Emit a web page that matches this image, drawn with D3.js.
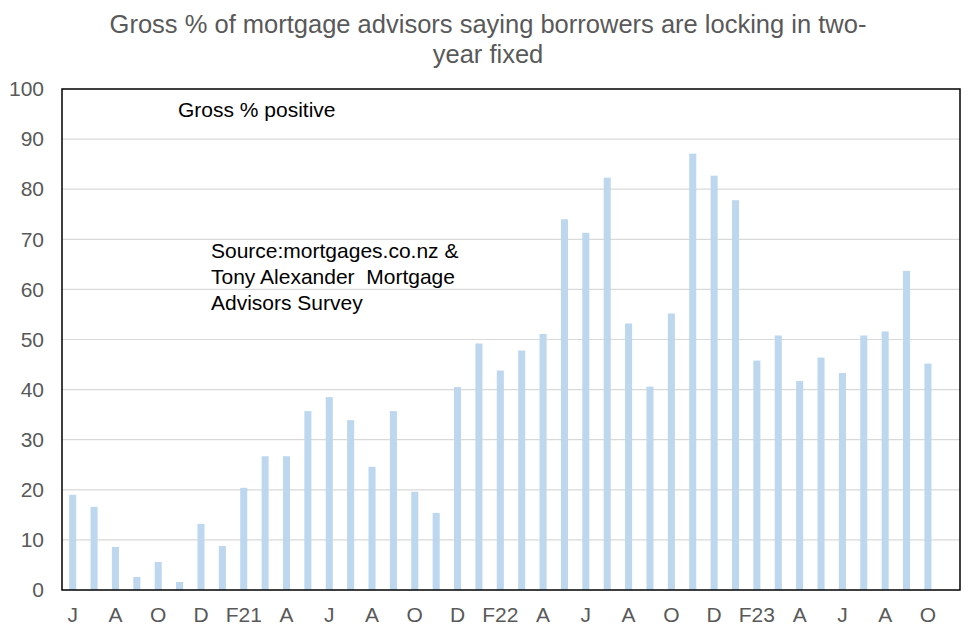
<!DOCTYPE html>
<html>
<head>
<meta charset="utf-8">
<script src="https://cdn.jsdelivr.net/npm/d3@7"></script>
<style>
  body { margin: 0; background: #fff; }
  svg { display: block; font-family: "Liberation Sans", Arial, sans-serif; }
</style>
</head>
<body>
<svg id="chart" width="976" height="636"></svg>
<script>
// monthly survey, Jun 2020 .. Nov 2023 (last month has no reading yet)
var months = [
	"2020-06", "2020-07", "2020-08", "2020-09", "2020-10", "2020-11", "2020-12",
	"2021-01", "2021-02", "2021-03", "2021-04", "2021-05", "2021-06", "2021-07",
	"2021-08", "2021-09", "2021-10", "2021-11", "2021-12", "2022-01", "2022-02",
	"2022-03", "2022-04", "2022-05", "2022-06", "2022-07", "2022-08", "2022-09",
	"2022-10", "2022-11", "2022-12", "2023-01", "2023-02", "2023-03", "2023-04",
	"2023-05", "2023-06", "2023-07", "2023-08", "2023-09", "2023-10", "2023-11"
];

var grossPositive = [
	19.0, 16.6, 8.6, 2.6, 5.6, 1.6, 13.2,
	8.8, 20.4, 26.7, 26.7, 35.7, 38.5, 33.9,
	24.6, 35.7, 19.6, 15.4, 40.5, 49.2, 43.8,
	47.8, 51.1, 74.0, 71.3, 82.3, 53.2, 40.6,
	55.2, 87.1, 82.7, 77.8, 45.8, 50.8, 41.7,
	46.4, 43.3, 50.8, 51.6, 63.7, 45.2, null
];

var xLabels = [
	"J", "", "A", "", "O", "", "D",
	"", "F21", "", "A", "", "J", "",
	"A", "", "O", "", "D", "", "F22",
	"", "A", "", "J", "", "A", "",
	"O", "", "D", "", "F23", "", "A",
	"", "J", "", "A", "", "O", ""
];

var yTicks = [0, 10, 20, 30, 40, 50, 60, 70, 80, 90, 100];

var titleLines = ["Gross % of mortgage advisors saying borrowers are locking in two-", "year fixed"];
var sourceLines = ["Source:mortgages.co.nz &", "Tony Alexander  Mortgage", "Advisors Survey"];

var svg = d3.select("#chart");
// plot box (named so they don't clash with window.top)
var plotL = 62, plotR = 960, plotT = 89, plotB = 590;

var x = d3.scaleBand()
	.domain(months)
	.range([plotL, plotR])
	.paddingInner(0.67)
	.paddingOuter(0.335);

var y = d3.scaleLinear()
	.domain([0, 100])
	.range([plotB, plotT]);

// Title
svg.append("g")
	.selectAll("text")
	.data(titleLines)
	.enter()
	.append("text")
	.attr("x", 488)
	.attr("y", (d, i) => 33 + i * 30)
	.attr("text-anchor", "middle")
	.attr("font-size", 25.5)
	.attr("fill", "#595959")
	.text(d => d);

// Gridlines
svg.append("g")
	.selectAll("line")
	.data(yTicks.filter(d => d > 0 && d < 100))
	.enter()
	.append("line")
	.attr("x1", plotL)
	.attr("x2", plotR)
	.attr("y1", d => y(d))
	.attr("y2", d => y(d))
	.attr("stroke", "#d9d9d9")
	.attr("stroke-width", 1.2);

// Bars
svg.append("g")
	.selectAll("rect")
	.data(months.map((m, i) => ({ month: m, value: grossPositive[i] })).filter(d => d.value != null))
	.enter()
	.append("rect")
	.attr("x", d => x(d.month))
	.attr("width", x.bandwidth())
	.attr("y", d => y(d.value))
	.attr("height", d => plotB - y(d.value))
	.attr("fill", "#bdd7ee");

// Y axis labels
var yAxis = svg.append("g")
	.attr("transform", `translate(${plotL},0)`)
	.call(d3.axisLeft(y).tickValues(yTicks).tickSize(0).tickPadding(18));
yAxis.select(".domain").remove();
yAxis.selectAll("text")
	.attr("font-size", 21)
	.attr("font-family", "Liberation Sans, Arial, sans-serif")
	.attr("fill", "#595959");

// X axis labels
var xAxis = svg.append("g")
	.attr("transform", `translate(0,${plotB})`)
	.call(d3.axisBottom(x).tickSize(0).tickPadding(17).tickFormat((d, i) => xLabels[i]));
xAxis.select(".domain").remove();
xAxis.selectAll("text")
	.attr("font-size", 21)
	.attr("font-family", "Liberation Sans, Arial, sans-serif")
	.attr("fill", "#595959");

// Plot frame
svg.append("rect")
	.attr("x", plotL)
	.attr("y", plotT)
	.attr("width", plotR - plotL)
	.attr("height", plotB - plotT)
	.attr("fill", "none")
	.attr("stroke", "#000")
	.attr("stroke-width", 1.5);

// In-plot notes
svg.append("text")
	.attr("x", 178)
	.attr("y", 117)
	.attr("font-size", 21)
	.attr("fill", "#000")
	.text("Gross % positive");

svg.append("g")
	.selectAll("text")
	.data(sourceLines)
	.enter()
	.append("text")
	.attr("x", 211)
	.attr("y", (d, i) => 258 + i * 26)
	.attr("font-size", 21)
	.attr("fill", "#000")
	.style("white-space", "pre")
	.text(d => d);
</script>
</body>
</html>
